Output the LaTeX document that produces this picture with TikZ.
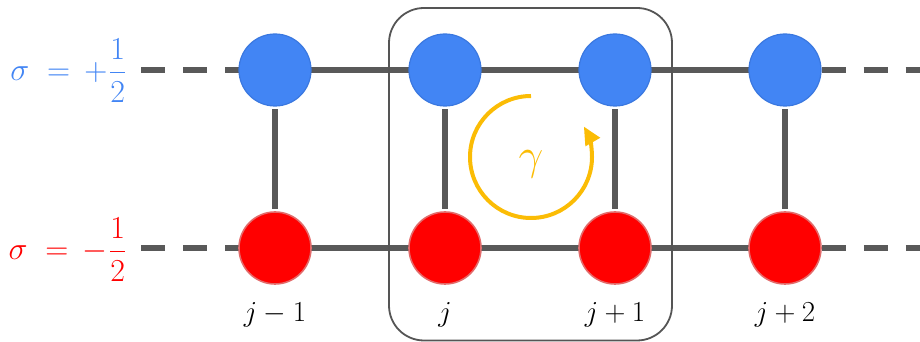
\RequirePackage{fix-cm}
\documentclass[tikz,border=0pt]{standalone}
\usepackage{amsmath}
\usetikzlibrary{arrows.meta,backgrounds}
\definecolor{gblue}{HTML}{4285F4}
\definecolor{gblueedge}{HTML}{3A78E0}
\definecolor{gred}{HTML}{FF0000}
\definecolor{grededge}{HTML}{E36A6A}
\definecolor{bondgray}{HTML}{595959}
\definecolor{framegray}{HTML}{555555}
\definecolor{gyellow}{HTML}{FBBC05}
\begin{document}
\begin{tikzpicture}[x=1pt,y=1pt,
  spinup/.style={circle,minimum size=72pt,inner sep=0pt,fill=gblue,draw=gblueedge,line width=1.2pt},
  spindown/.style={circle,minimum size=72pt,inner sep=0pt,fill=gred,draw=grededge,line width=1.6pt},
  bond/.style={draw=bondgray,line width=6pt},
  dashbond/.style={draw=bondgray,line width=6pt,dash pattern=on 24pt off 18pt},
  framebox/.style={draw=framegray,line width=1.8pt,rounded corners=35pt,minimum width=283pt,minimum height=332.5pt,inner sep=0pt},
  sitelabel/.style={anchor=base,inner sep=0pt,font=\fontsize{29}{31}\selectfont},
  spinlabel/.style={anchor=base east,inner sep=0pt,font=\fontsize{32}{34}\selectfont},
  loopline/.style={draw=gyellow,line width=4pt,-{Triangle[length=18pt,width=16pt]}},
]
\useasboundingbox (0,0) rectangle (920,342);

% frame around the plaquette
\node[framebox] (box) at (530.5,167.75) {};

% sites
\foreach \i/\x in {1/275,2/445,3/615,4/785}{
  \node[spinup] (u\i) at (\x,272) {};
  \node[spindown] (d\i) at (\x,94) {};
}

% free ends of dashed bonds
\coordinate (lu) at (141,272);
\coordinate (ld) at (141,94);
\coordinate (ru) at (930,272);
\coordinate (rd) at (930,94);

\begin{scope}[on background layer]
  \draw[bond] (u1.center) -- (u4.center);
  \draw[bond] (d1.center) -- (d4.center);
  \draw[dashbond] (lu) -- (u1.center);
  \draw[dashbond] (ld) -- (d1.center);
\end{scope}
\draw[dashbond] (u4.east) -- (ru);
\draw[dashbond] (d4.east) -- (rd);

% rungs
\foreach \i in {1,2,3,4}{
  \draw[bond,shorten <=2.5pt,shorten >=2.5pt] (u\i) -- (d\i);
}

% spin labels
\node[spinlabel,text=gblue] (lup) at (126.5,261) {$\sigma\mkern5mu=\mkern3mu+\mkern1mu\dfrac{1}{2}$};
\node[spinlabel,text=gred] (ldown) at (126.5,82) {$\sigma\mkern5mu=\mkern3mu-\mkern1mu\dfrac{1}{2}$};

% site labels
\node[sitelabel] (j1) at (275,20) {$j-1$};
\node[sitelabel] (j2) at (445,20) {$j$};
\node[sitelabel] (j3) at (615,20) {$j+1$};
\node[sitelabel] (j4) at (785,20) {$j+2$};

% loop gamma
\coordinate (gc) at (531,185);
\draw[loopline] (gc) ++(90:61) arc[start angle=90,end angle=390,radius=61];
\node[anchor=base,inner sep=0pt,text=gyellow,font=\fontsize{44}{46}\selectfont] (gam) at (531,172) {$\gamma$};
\end{tikzpicture}
\end{document}
